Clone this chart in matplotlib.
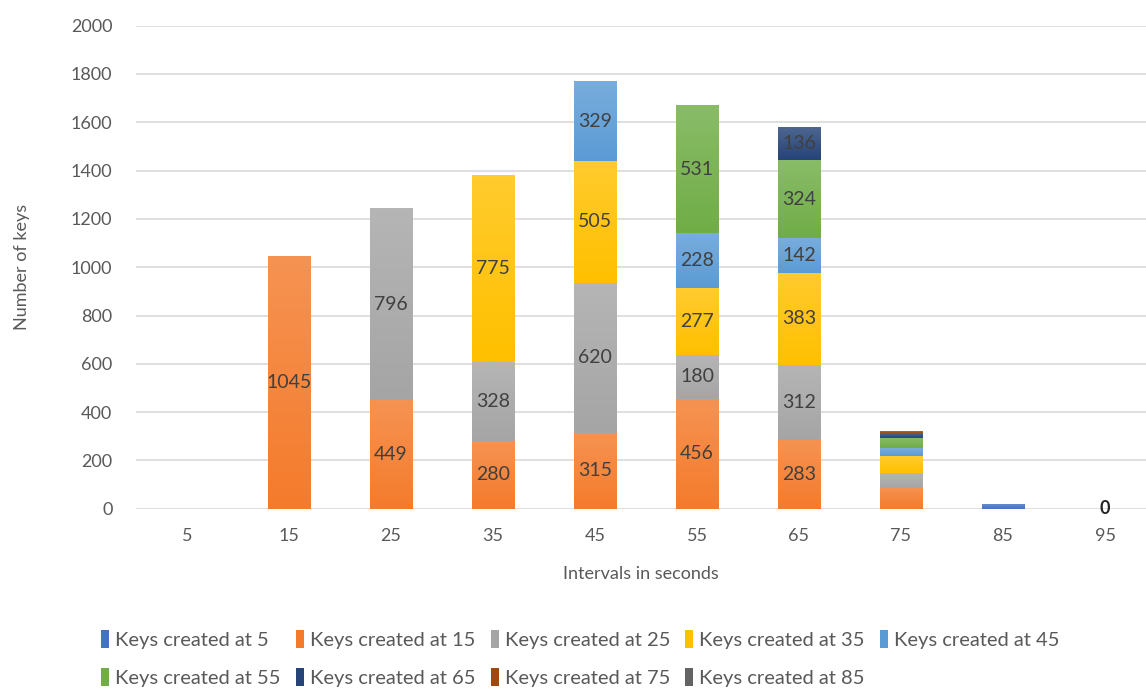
import matplotlib
matplotlib.use('Agg')
import matplotlib.pyplot as plt
import numpy as np
from matplotlib.colors import to_rgb

plt.rcParams['font.family'] = ['Lato', 'DejaVu Sans']

intervals = ['5', '15', '25', '35', '45', '55', '65', '75', '85', '95']
series_names = ['Keys created at 5', 'Keys created at 15', 'Keys created at 25',
                'Keys created at 35', 'Keys created at 45', 'Keys created at 55',
                'Keys created at 65', 'Keys created at 75', 'Keys created at 85']
series_colors = ['#4472C4', '#F47B2C', '#A5A5A5', '#FFC000', '#5B9BD5',
                 '#70AD47', '#264478', '#9E480E', '#636363']

# rows = series, columns = intervals
s5 = [0, 0, 0, 0, 0, 0, 0, 0, 20, 0]
s15 = [0, 1045, 449, 280, 315, 456, 283, 87, 0, 0]
s25 = [0, 0, 796, 328, 620, 180, 312, 62, 0, 0]
s35 = [0, 0, 0, 775, 505, 277, 383, 70, 0, 0]
s45 = [0, 0, 0, 0, 329, 228, 142, 32, 0, 0]
s55 = [0, 0, 0, 0, 0, 531, 324, 42, 0, 0]
s65 = [0, 0, 0, 0, 0, 0, 136, 20, 0, 0]
s75 = [0, 0, 0, 0, 0, 0, 0, 8, 0, 0]
s85 = [0, 0, 0, 0, 0, 0, 0, 0, 0, 0]
all_series = [s5, s15, s25, s35, s45, s55, s65, s75, s85]

fig = plt.figure(figsize=(11.46, 6.9), dpi=100)
ax = fig.add_axes([136 / 1146, 1 - 508.7 / 690, 1 - 136 / 1146, 483 / 690])

x = np.arange(len(intervals))
width = 0.42
bottom = np.zeros(len(intervals))


def lighten(c, f):
    r = np.array(to_rgb(c))
    return r + (1 - r) * f


handles = []
for name, vals, col in zip(series_names, all_series, series_colors):
    vals = np.array(vals, dtype=float)
    bars = ax.bar(x, vals, width, bottom=bottom, color=col, label=name, zorder=2)
    handles.append(bars)
    # soft vertical gradient like the Excel fill
    for b, v in zip(bars, vals):
        if v <= 0:
            continue
        x0, y0 = b.get_x(), b.get_y()
        top = lighten(col, 0.18)
        bot = np.array(to_rgb(col))
        g = np.linspace(0, 1, 64)[:, None]
        img = (bot[None, :] * (1 - g) + top[None, :] * g)[:, None, :]
        im = ax.imshow(img, extent=(x0, x0 + b.get_width(), y0, y0 + b.get_height()),
                       origin='lower', aspect='auto', zorder=3, interpolation='bilinear')
        im.set_clip_path(b)
    labels = [f'{int(v)}' if v >= 100 else '' for v in vals]
    ax.bar_label(bars, labels=labels, label_type='center', color='#404040',
                 fontsize=14, zorder=5)
    bottom += vals

# zero label on the last interval
ax.text(x[-1], 0, f'{s85[-1]}', ha='center', va='center', fontsize=13,
        fontweight='bold', color='#262626', zorder=5)

ax.set_xlim(-0.5, -0.5 + 1010 / 102)
ax.set_ylim(0, 2000)
ax.set_yticks(np.arange(0, 2001, 200))
ax.set_xticks(x)
ax.set_xticklabels(intervals)
ax.grid(axis='y', color='#D9D9D9', linewidth=1.2, zorder=0)
ax.set_axisbelow(True)
for s in ax.spines.values():
    s.set_visible(False)
ax.tick_params(length=0, labelsize=13, labelcolor='#595959')
ax.tick_params(axis='y', pad=17)
ax.tick_params(axis='x', pad=14)
ax.set_ylabel('Number of keys', fontsize=13, color='#595959')
ax.set_xlabel('Intervals in seconds', fontsize=13, color='#595959', labelpad=16)
ax.yaxis.set_label_coords(-(136 - 30) / 1010, 0.5)

# legend filled row by row (matplotlib fills columns first)
order = [0, 5, 1, 6, 2, 7, 3, 8, 4]
fig.legend([handles[i] for i in order], [series_names[i] for i in order],
           loc='upper left', bbox_to_anchor=(83 / 1146, 1 - 612 / 690), ncol=5,
           frameon=False, fontsize=14.5, handlelength=0.4, handleheight=1.0,
           handletextpad=0.3, columnspacing=0.75, labelspacing=0.95,
           labelcolor='#595959')

fig.savefig('out.png', dpi=100)
